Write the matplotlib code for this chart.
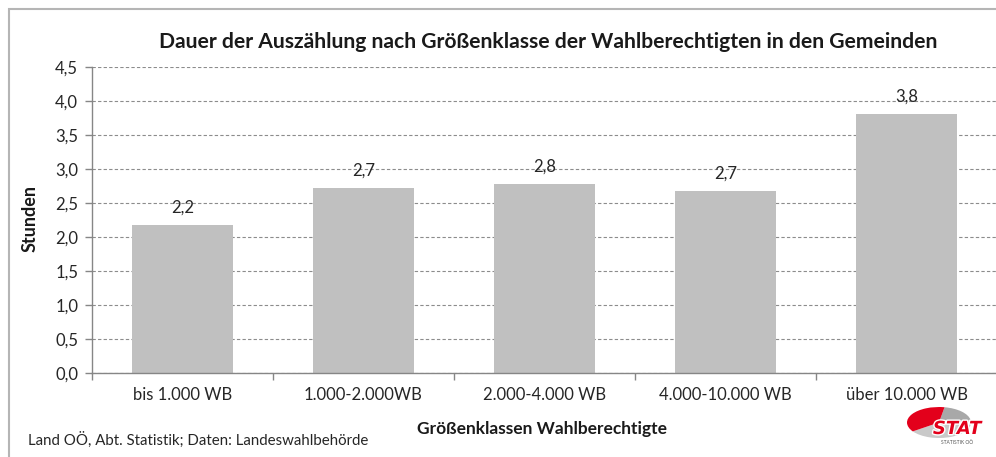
import matplotlib
matplotlib.use("Agg")
import matplotlib.pyplot as plt
from matplotlib.patches import Wedge, Rectangle
from matplotlib.ticker import FuncFormatter, FixedLocator
import matplotlib.patheffects as pe

categories = ["bis 1.000 WB", "1.000-2.000WB", "2.000-4.000 WB", "4.000-10.000 WB", "über 10.000 WB"]
values = [2.17, 2.72, 2.78, 2.67, 3.81]
labels = ["2,2", "2,7", "2,8", "2,7", "3,8"]
yticks = [0.0, 0.5, 1.0, 1.5, 2.0, 2.5, 3.0, 3.5, 4.0, 4.5]

title = "Dauer der Auszählung nach Größenklasse der Wahlberechtigten in den Gemeinden"
xlabel = "Größenklassen Wahlberechtigte"
ylabel = "Stunden"
source = "Land OÖ, Abt. Statistik; Daten: Landeswahlbehörde"

plt.rcParams['font.family'] = ['Lato', 'DejaVu Sans']
W, H = 996, 457
fig = plt.figure(figsize=(W/100, H/100), dpi=100)

# outer border
fig.patches.append(Rectangle((9/W, -0.1), 1.2, 1.1 - 9/H, transform=fig.transFigure,
                             fill=False, edgecolor="#b5b5b5", linewidth=1.5))

ax = fig.add_axes([92/W, 1-373/H, (997-92)/W, (373-67)/H])
x = list(range(len(categories)))
ax.bar(x, values, width=0.555, color="#c0c0c0", zorder=2)
ax.set_xlim(-0.5, len(categories)-0.5)
ax.set_ylim(0, 4.5)
ax.set_yticks(yticks)
ax.yaxis.set_major_formatter(FuncFormatter(lambda v, p: f"{v:.1f}".replace(".", ",")))
ax.yaxis.grid(True, linestyle=(0, (3, 2)), color="#8c8c8c", linewidth=0.8, zorder=0)
ax.set_axisbelow(True)
for s in ["top", "right"]:
    ax.spines[s].set_visible(False)
for s in ["left", "bottom"]:
    ax.spines[s].set_color("#868686")
    ax.spines[s].set_linewidth(1.0)
ax.tick_params(axis="y", colors="#868686", length=5, width=1.0, labelcolor="#262626", labelsize=12, pad=5)
ax.xaxis.set_major_locator(FixedLocator([i - 0.5 for i in range(len(categories)+1)]))
ax.xaxis.set_major_formatter(FuncFormatter(lambda v, p: ""))
ax.xaxis.set_minor_locator(FixedLocator(x))
ax.set_xticklabels(categories, minor=True)
ax.tick_params(axis="x", which="major", colors="#868686", length=5, width=1.0)
ax.tick_params(axis="x", which="minor", length=0, labelsize=12, labelcolor="#262626", pad=10)

for xi, v, lab in zip(x, values, labels):
    ax.annotate(lab, (xi, v), xytext=(0, 7), textcoords="offset points",
                ha="center", va="bottom", fontsize=12, color="#262626")

fig.text(548/W, 1-42/H, title, ha="center", va="center", fontsize=15.2, fontweight="bold", color="#1a1a1a")
fig.text(30/W, 1-219/H, ylabel, ha="center", va="center", rotation=90, fontsize=13, fontweight="bold", color="#1a1a1a")
fig.text(542/W, 1-429/H, xlabel, ha="center", va="center", fontsize=12.5, fontweight="bold", color="#1a1a1a")
fig.text(28/W, 1-440/H, source, ha="left", va="center", fontsize=10.8, color="#262626")

# STAT logo
lax = fig.add_axes([907/W, 1-438/H, 64/W, 31/H])
lax.set_xlim(-1, 1)
lax.set_ylim(-1, 1)
lax.axis("off")
lax.add_patch(Wedge((0, 0), 1, 215, 370, facecolor="#c9c9c9", edgecolor="none"))
lax.add_patch(Wedge((0, 0), 1, 10, 80, facecolor="#a8a8a8", edgecolor="none"))
lax.add_patch(Wedge((0, 0), 1, 80, 215, facecolor="#e3001b", edgecolor="none"))
fig.text(957/W, 1-429/H, "STAT", ha="center", va="center", fontsize=13, fontweight="heavy",
         fontstyle="italic", color="#e3001b", family=["DejaVu Sans"],
         path_effects=[pe.withStroke(linewidth=2, foreground="white")])
fig.text(957/W, 1-442/H, "STATISTIK OÖ", ha="center", va="center", fontsize=3.5, color="#555555")

fig.savefig("out.png", dpi=100)
